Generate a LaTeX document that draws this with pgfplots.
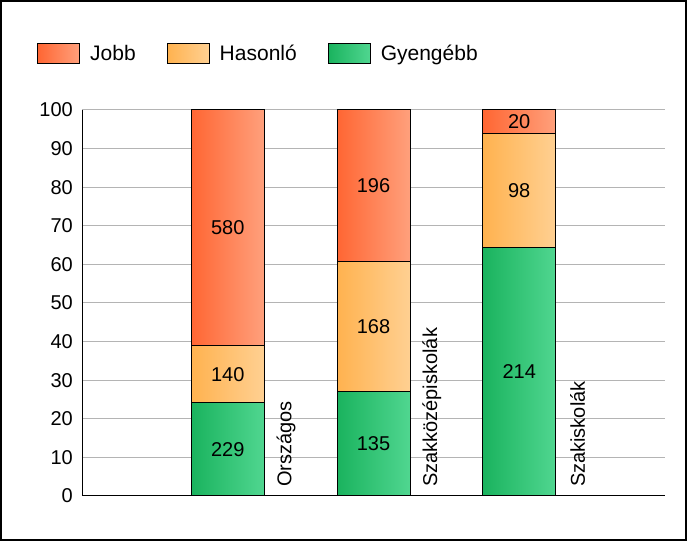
\documentclass[border=0pt]{standalone}
\usepackage{pgfplots}
\pgfplotsset{compat=1.18}
\usepackage{pgfplotstable}
\usepackage{fontspec}
\setmainfont{Liberation Sans}

\definecolor{jobbL}{HTML}{FF6633}
\definecolor{jobbR}{HTML}{FFA07C}
\definecolor{hasL}{HTML}{FFB24F}
\definecolor{hasR}{HTML}{FFD092}
\definecolor{gyL}{HTML}{1AB35E}
\definecolor{gyR}{HTML}{50D690}
\definecolor{gridc}{HTML}{B4B4B4}

% x = group, pct = share (%), top = top of the segment in the 100% stack, n = count
\pgfplotstableread{
x pct top n
1 24.13 24.13 229
2 27.05 27.05 135
3 64.46 64.46 214
}\gyengebb
\pgfplotstableread{
x pct top n
1 14.75 38.88 140
2 33.67 60.72 168
3 29.52 93.98 98
}\hasonlo
\pgfplotstableread{
x pct top n
1 61.12 100 580
2 39.28 100 196
3 6.02 100 20
}\jobb

% one bar (row #3 of table #4) with its own horizontal gradient
\newcommand\seg[5][forget plot]{%
  \addplot[draw=black, line width=1bp, left color=#2, right color=#3,
    visualization depends on={\thisrow{pct}\as\rawy},
    skip coords between index={0}{#4},
    skip coords between index={\the\numexpr#4+1\relax}{3},
    legend image code/.code={\draw[line width=1bp, left color=#2, right color=#3] (0bp,-10bp) rectangle (42bp,10bp);},
    #1]
    table[x=x, y=top, meta=n] {#5};}

\begin{document}
\begin{tikzpicture}[font=\fontsize{20bp}{24bp}\selectfont]
\useasboundingbox (0,0) rectangle (687bp,541bp);
\fill[white] (0,0) rectangle (687bp,541bp);
\draw[line width=2bp] (1bp,1bp) rectangle (686bp,540bp);
\begin{axis}[
  at={(82bp,45bp)}, anchor=south west,
  scale only axis, width=583bp, height=386bp,
  xmin=0, xmax=4, ymin=0, ymax=100,
  ybar, bar width=73bp, bar shift=0pt,
  axis x line=bottom, axis y line=left,
  axis line style={-, black, line width=1bp},
  xtick=\empty,
  ytick={0,10,...,100},
  ymajorgrids, grid style={gridc, line width=1bp},
  major tick length=0pt,
  yticklabel style={inner sep=0pt, xshift=-9bp},
  /pgf/number format/assume math mode=true,
  legend columns=3,
  legend style={draw=none, fill=none, inner sep=0pt,
    at={(axis description cs:0,1)}, anchor=west,
    xshift=-45bp, yshift=56.5bp,
    font=\fontsize{21bp}{24bp}\selectfont,
    nodes={inner sep=0pt},
    /tikz/every odd column/.append style={column sep=10bp},
    /tikz/every even column/.append style={column sep=31bp}},
  legend cell align=left,
  nodes near coords,
  point meta=explicit,
  every node near coord/.append style={black, anchor=center,
    shift={(axis direction cs:0,-\rawy/2)}},
]
\seg[]{jobbL}{jobbR}{0}{\jobb}
\addlegendentry{Jobb}
\seg{jobbL}{jobbR}{1}{\jobb}
\seg{jobbL}{jobbR}{2}{\jobb}
\seg[]{hasL}{hasR}{0}{\hasonlo}
\addlegendentry{Hasonló}
\seg{hasL}{hasR}{1}{\hasonlo}
\seg{hasL}{hasR}{2}{\hasonlo}
\seg[]{gyL}{gyR}{0}{\gyengebb}
\addlegendentry{Gyengébb}
\seg{gyL}{gyR}{1}{\gyengebb}
\seg{gyL}{gyR}{2}{\gyengebb}
\node[rotate=90, anchor=west, inner sep=0pt] at (axis cs:1.4,2.3) {Országos};
\node[rotate=90, anchor=west, inner sep=0pt] at (axis cs:2.4,2.3) {Szakközépiskolák};
\node[rotate=90, anchor=west, inner sep=0pt] at (axis cs:3.4,2.3) {Szakiskolák};
\end{axis}
\end{tikzpicture}
\end{document}
